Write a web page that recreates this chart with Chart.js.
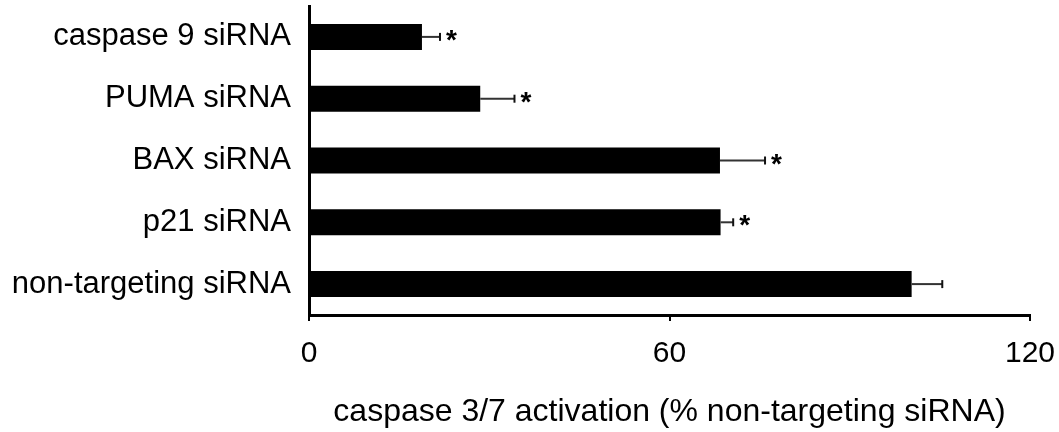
<!DOCTYPE html>
<html>
<head>
<meta charset="utf-8">
<script src="https://cdn.jsdelivr.net/npm/chart.js@4.4.1/dist/chart.umd.min.js"></script>
<style>
  html, body { margin: 0; padding: 0; background: #fff; }
  #wrap { width: 1059px; height: 432px; }
</style>
</head>
<body>
<div id="wrap"><canvas id="casChart" width="1059" height="432"></canvas></div>
<script>
// ── data ──
const categories = ['caspase 9 siRNA', 'PUMA siRNA', 'BAX siRNA', 'p21 siRNA', 'non-targeting siRNA'];
const activation = [18.8, 28.5, 68.4, 68.5, 100.3];
const errorPlus = [3.0, 5.7, 7.5, 2.1, 5.1];
const significant = [true, true, true, true, false];
const xTicks = [0, 60, 120];

const FONT = "'Liberation Sans', Arial, sans-serif";

// error bars (right side only) + asterisks
const errorBarPlugin = {
    id: 'errorBars',
    afterDatasetsDraw(chart) {
        const ctx = chart.ctx;
        const xs = chart.scales.x;
        const meta = chart.getDatasetMeta(0);
        ctx.save();
        meta.data.forEach((bar, i) => {
            const x0 = xs.getPixelForValue(activation[i]);
            const x1 = xs.getPixelForValue(activation[i] + errorPlus[i]);
            const y = bar.y;
            ctx.strokeStyle = '#333';
            ctx.lineWidth = 2;
            ctx.beginPath();
            ctx.moveTo(x0, y);
            ctx.lineTo(x1, y);
            ctx.stroke();
            ctx.strokeStyle = '#111';
            ctx.beginPath();
            ctx.moveTo(x1, y - 4);
            ctx.lineTo(x1, y + 4);
            ctx.stroke();
            if (significant[i]) {
                ctx.fillStyle = '#000';
                ctx.font = 'bold 28px ' + FONT;
                ctx.textAlign = 'left';
                ctx.textBaseline = 'alphabetic';
                ctx.fillText('*', x1 + 6, y + 12);
            }
        });
        ctx.restore();
    }
};

new Chart(document.getElementById('casChart'), {
    type: 'bar',
    data: {
        labels: categories,
        datasets: [{
            data: activation,
            backgroundColor: '#000',
            borderWidth: 0,
            categoryPercentage: 1,
            barPercentage: 0.42
        }]
    },
    options: {
        indexAxis: 'y',
        responsive: false,
        animation: false,
        events: [],
        layout: { padding: { top: 6, right: 29, left: 0, bottom: 0 } },
        plugins: { legend: { display: false }, tooltip: { enabled: false } },
        scales: {
            x: {
                min: 0,
                max: 120,
                afterBuildTicks: s => { s.ticks = xTicks.map(v => ({ value: v })); },
                afterFit: s => {
                    s.height = 117;
                    s.paddingLeft = 0; s.paddingRight = 0;
                },
                border: { display: true, color: '#000', width: 3 },
                grid: { drawOnChartArea: false, drawTicks: true, tickLength: 6, color: '#000', lineWidth: 2 },
                ticks: { color: '#000', padding: 15, maxRotation: 0, font: { family: FONT, size: 30 } },
                title: {
                    display: true,
                    text: 'caspase 3/7 activation (% non-targeting siRNA)',
                    color: '#000',
                    padding: { top: 0, bottom: 1 },
                    font: { family: FONT, size: 32 }
                }
            },
            y: {
                afterFit: s => {
                    s.width = 309;
                    s.paddingTop = 0; s.paddingBottom = 0;
                },
                border: { display: true, color: '#000', width: 3 },
                grid: { display: false, drawTicks: false },
                ticks: { color: '#000', padding: 18, font: { family: FONT, size: 31 } }
            }
        }
    },
    plugins: [errorBarPlugin]
});
</script>
</body>
</html>
